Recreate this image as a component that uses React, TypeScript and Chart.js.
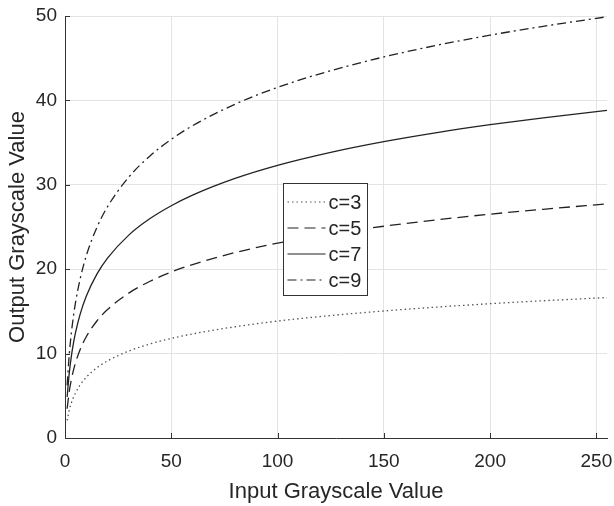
import React, { useEffect, useRef } from "react";
import { Chart, registerables } from "chart.js";

Chart.register(...registerables);

const xValues = [1, 2, 3, 4, 5, 7, 10, 15, 20, 30, 40, 50, 60, 80, 100, 125, 150, 175, 200, 225, 255];
const c3 = [2.08, 3.3, 4.16, 4.83, 5.38, 6.24, 7.19, 8.32, 9.13, 10.3, 11.14, 11.8, 12.33, 13.18, 13.85, 14.51, 15.05, 15.51, 15.91, 16.26, 16.64];
const c5 = [3.47, 5.49, 6.93, 8.05, 8.96, 10.4, 11.99, 13.86, 15.22, 17.17, 18.57, 19.66, 20.55, 21.97, 23.08, 24.18, 25.09, 25.85, 26.52, 27.1, 27.73];
const c7 = [4.85, 7.69, 9.7, 11.27, 12.54, 14.56, 16.79, 19.41, 21.31, 24.04, 26.0, 27.52, 28.78, 30.76, 32.31, 33.85, 35.12, 36.19, 37.12, 37.94, 38.82];
const c9 = [6.24, 9.89, 12.48, 14.48, 16.13, 18.71, 21.58, 24.95, 27.4, 30.91, 33.42, 35.39, 37.0, 39.55, 41.54, 43.52, 45.15, 46.53, 47.73, 48.78, 49.91];
const seriesLabels = ["c=3", "c=5", "c=7", "c=9"];
const xTicks = [0, 50, 100, 150, 200, 250];
const yTicks = [0, 10, 20, 30, 40, 50];

const dashes = [[1.5, 3], [11, 6], [], [9, 4, 2, 4]];
const colors = ["#555", "#222", "#222", "#222"];

const FONT = "'Liberation Sans', Arial, sans-serif";

const legendPlugin = {
  id: "boxLegend",
  afterDraw(chart: any) {
    const ctx = chart.ctx;
    const xs = chart.scales.x;
    const ys = chart.scales.y;
    const area = chart.chartArea;
    ctx.save();
    // inward ticks
    ctx.strokeStyle = "#333";
    ctx.lineWidth = 1;
    ctx.setLineDash([]);
    xTicks.forEach((t) => {
      const px = Math.round(xs.getPixelForValue(t)) + 0.5;
      ctx.beginPath();
      ctx.moveTo(px, area.bottom);
      ctx.lineTo(px, area.bottom - 5);
      ctx.stroke();
    });
    yTicks.forEach((t) => {
      const py = Math.round(ys.getPixelForValue(t)) + 0.5;
      ctx.beginPath();
      ctx.moveTo(area.left, py);
      ctx.lineTo(area.left + 5, py);
      ctx.stroke();
    });
    // legend box
    const bx = 283.5, by = 183.5, bw = 84, bh = 112;
    ctx.fillStyle = "#fff";
    ctx.fillRect(bx, by, bw, bh);
    ctx.strokeStyle = "#333";
    ctx.strokeRect(bx, by, bw, bh);
    ctx.font = `20px ${FONT}`;
    ctx.textBaseline = "middle";
    seriesLabels.forEach((lab, i) => {
      const yy = by + 18.5 + i * 26;
      ctx.strokeStyle = colors[i];
      ctx.lineWidth = 1.2;
      ctx.setLineDash(dashes[i]);
      ctx.beginPath();
      ctx.moveTo(bx + 4, yy);
      ctx.lineTo(bx + 42, yy);
      ctx.stroke();
      ctx.setLineDash([]);
      ctx.fillStyle = "#262626";
      ctx.fillText(lab, bx + 45, yy + 1);
    });
    ctx.restore();
  },
};

export default function App() {
  const ref = useRef<HTMLCanvasElement | null>(null);
  useEffect(() => {
    if (!ref.current) return;
    const series = [c3, c5, c7, c9];
    const chart = new Chart(ref.current, {
      type: "line",
      data: {
        datasets: series.map((s, i) => ({
          label: seriesLabels[i],
          data: s.map((v, j) => ({ x: xValues[j], y: v })),
          borderColor: colors[i],
          borderWidth: 1.3,
          borderDash: dashes[i],
          pointRadius: 0,
          fill: false,
          cubicInterpolationMode: "monotone" as const,
        })),
      },
      options: {
        animation: false,
        responsive: false,
        layout: { padding: { top: 16, right: 7, left: 0, bottom: 0 } },
        plugins: { legend: { display: false }, tooltip: { enabled: false } },
        scales: {
          x: {
            type: "linear",
            min: 0,
            max: 255,
            afterBuildTicks: (s: any) => {
              s.ticks = xTicks.map((v) => ({ value: v }));
            },
            afterFit: (s: any) => {
              s.height = 68;
              s.paddingLeft = 0;
              s.paddingRight = 0;
            },
            ticks: { font: { family: FONT, size: 19 }, color: "#262626", padding: 12 },
            grid: { color: "#e3e3e3", drawTicks: false, tickLength: 0 },
            border: { color: "#333", width: 1 },
            title: {
              display: true,
              text: "Input Grayscale Value",
              font: { family: FONT, size: 22 },
              color: "#262626",
              padding: { top: 0, bottom: 1 },
            },
          },
          y: {
            min: 0,
            max: 50,
            afterBuildTicks: (s: any) => {
              s.ticks = yTicks.map((v) => ({ value: v }));
            },
            afterFit: (s: any) => {
              s.width = 65;
              s.paddingTop = 0;
              s.paddingBottom = 0;
            },
            ticks: { font: { family: FONT, size: 19 }, color: "#262626", padding: 8 },
            grid: { color: "#e3e3e3", drawTicks: false, tickLength: 0 },
            border: { color: "#333", width: 1 },
            title: {
              display: true,
              text: "Output Grayscale Value",
              font: { family: FONT, size: 22 },
              color: "#262626",
              padding: { top: 5, bottom: 0 },
            },
          },
        },
      },
      plugins: [legendPlugin],
    });
    return () => chart.destroy();
  }, []);
  return (
    <div style={{ position: "absolute", left: 0, top: 0, width: 614, height: 506, background: "#fff" }}>
      <canvas ref={ref} width={614} height={506} style={{ width: 614, height: 506 }} />
    </div>
  );
}
